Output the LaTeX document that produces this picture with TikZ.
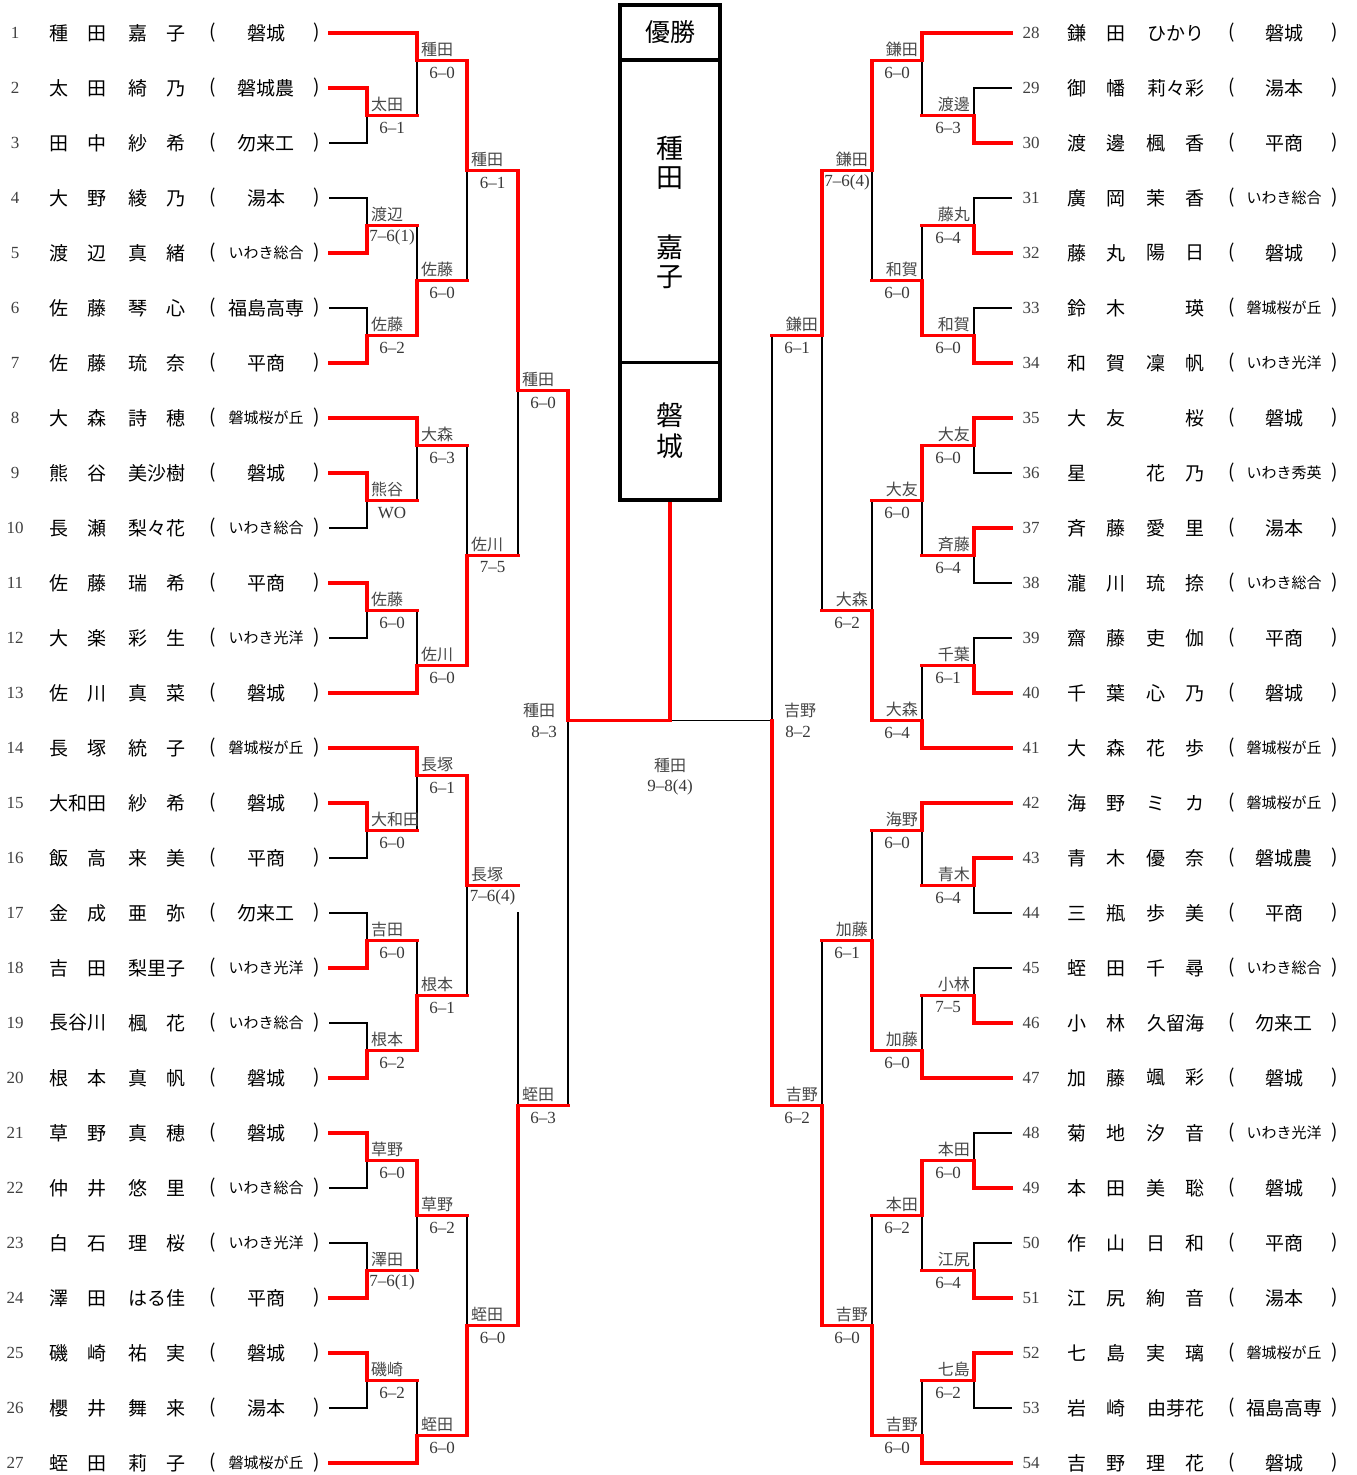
\documentclass[tikz,border=0pt]{standalone}
\usepackage{fontspec}
\newfontfamily\jpf{Noto Sans CJK JP}
\newfontfamily\numf[Ligatures=TeX]{Liberation Serif}
\pgfdeclarelayer{blk}
\pgfsetlayers{blk,main}
\tikzset{declare function={YY(\r)=55*\r-22;}}
\newcommand\D[2]{#1\hfill#2}
\newcommand\CC[1]{\hfil#1\hfil}
\newcommand\sm[1]{{\fontsize{15}{15}\selectfont#1}}
\newcounter{mc}
% left player: row, num, family, given, school
\newcommand\LP[5]{%
\node[num] (pn#2) at (15,{YY(#1)}) {#2};
\node[nm] (pf#2) at (78,{YY(#1)}) {\hbox to 58pt{#3}};
\node[nm] (pg#2) at (157,{YY(#1)}) {\hbox to 58pt{#4}};
\node[nm] (po#2) at (213,{YY(#1)}) {(};
\node[nm] (ps#2) at (266,{YY(#1)}) {#5};
\node[nm] (pc#2) at (317,{YY(#1)}) {)};}
\newcommand\RP[5]{%
\node[num] (pn#2) at (1031,{YY(#1)}) {#2};
\node[nm] (pf#2) at (1096,{YY(#1)}) {\hbox to 58pt{#3}};
\node[nm] (pg#2) at (1175.5,{YY(#1)}) {\hbox to 58pt{#4}};
\node[nm] (po#2) at (1232,{YY(#1)}) {(};
\node[nm] (ps#2) at (1284,{YY(#1)}) {#5};
\node[nm] (pc#2) at (1335,{YY(#1)}) {)};}
\newcommand\LLr[2]{\draw[rl] (330,{YY(#1)}) -- (#2,{YY(#1)});}
\newcommand\LLb[2]{\begin{pgfonlayer}{blk}\draw[bl] (330,{YY(#1)}) -- (#2,{YY(#1)});\end{pgfonlayer}}
\newcommand\RLr[2]{\draw[rl] (1011,{YY(#1)}) -- (#2,{YY(#1)});}
\newcommand\RLb[2]{\begin{pgfonlayer}{blk}\draw[bl] (1011,{YY(#1)}) -- (#2,{YY(#1)});\end{pgfonlayer}}
% match: xv, xn, winner row, loser row, result row, label, score
\newcommand\LM[7]{\stepcounter{mc}%
\begin{pgfonlayer}{blk}\draw[bl] (#1,{YY(#5)}) -- (#1,{YY(#4)});\end{pgfonlayer}
\draw[rl] (#1,{YY(#3)}) -- (#1,{YY(#5)}) -- (#2,{YY(#5)});
\node[lab,anchor=west] (w\themc) at ({#1+4},{YY(#5)-11}) {#6};
\node[sc] (s\themc) at ({(#1+#2)/2},{YY(#5)+12}) {#7};}
\newcommand\RM[7]{\stepcounter{mc}%
\begin{pgfonlayer}{blk}\draw[bl] (#1,{YY(#5)}) -- (#1,{YY(#4)});\end{pgfonlayer}
\draw[rl] (#1,{YY(#3)}) -- (#1,{YY(#5)}) -- (#2,{YY(#5)});
\node[lab,anchor=east] (w\themc) at ({#1-4},{YY(#5)-11}) {#6};
\node[sc] (s\themc) at ({(#1+#2)/2},{YY(#5)+12}) {#7};}
\begin{document}
\begin{tikzpicture}[x=1pt,y=-1pt,
 nm/.style={inner sep=0pt,font=\jpf\fontsize{19}{19}\selectfont},
 num/.style={inner sep=0pt,font=\numf\fontsize{17}{17}\selectfont,text=black!75},
 lab/.style={inner sep=0pt,font=\jpf\fontsize{16}{16}\selectfont,text=black!72},
 sc/.style={inner sep=0pt,font=\numf\fontsize{17}{17}\selectfont,text=black!78},
 rl/.style={draw=red,line width=3.6pt,line cap=rect},
 bl/.style={draw=black,line width=1.8pt,line cap=rect},
 bx/.style={draw=black,line width=3.3pt},
 big/.style={inner sep=0pt,font=\jpf\fontsize{27}{27}\selectfont}]
\useasboundingbox (0,0) rectangle (1357,1475);
% ---------- left players ----------
\LP{1}{1}{\D{種}{田}}{\D{嘉}{子}}{磐城}
\LP{2}{2}{\D{太}{田}}{\D{綺}{乃}}{磐城農}
\LP{3}{3}{\D{田}{中}}{\D{紗}{希}}{勿来工}
\LP{4}{4}{\D{大}{野}}{\D{綾}{乃}}{湯本}
\LP{5}{5}{\D{渡}{辺}}{\D{真}{緒}}{\sm{いわき総合}}
\LP{6}{6}{\D{佐}{藤}}{\D{琴}{心}}{福島高専}
\LP{7}{7}{\D{佐}{藤}}{\D{琉}{奈}}{平商}
\LP{8}{8}{\D{大}{森}}{\D{詩}{穂}}{\sm{磐城桜が丘}}
\LP{9}{9}{\D{熊}{谷}}{\CC{美沙樹}}{磐城}
\LP{10}{10}{\D{長}{瀬}}{\CC{梨々花}}{\sm{いわき総合}}
\LP{11}{11}{\D{佐}{藤}}{\D{瑞}{希}}{平商}
\LP{12}{12}{\D{大}{楽}}{\D{彩}{生}}{\sm{いわき光洋}}
\LP{13}{13}{\D{佐}{川}}{\D{真}{菜}}{磐城}
\LP{14}{14}{\D{長}{塚}}{\D{統}{子}}{\sm{磐城桜が丘}}
\LP{15}{15}{\CC{大和田}}{\D{紗}{希}}{磐城}
\LP{16}{16}{\D{飯}{高}}{\D{来}{美}}{平商}
\LP{17}{17}{\D{金}{成}}{\D{亜}{弥}}{勿来工}
\LP{18}{18}{\D{吉}{田}}{\CC{梨里子}}{\sm{いわき光洋}}
\LP{19}{19}{\CC{長谷川}}{\D{楓}{花}}{\sm{いわき総合}}
\LP{20}{20}{\D{根}{本}}{\D{真}{帆}}{磐城}
\LP{21}{21}{\D{草}{野}}{\D{真}{穂}}{磐城}
\LP{22}{22}{\D{仲}{井}}{\D{悠}{里}}{\sm{いわき総合}}
\LP{23}{23}{\D{白}{石}}{\D{理}{桜}}{\sm{いわき光洋}}
\LP{24}{24}{\D{澤}{田}}{\CC{はる佳}}{平商}
\LP{25}{25}{\D{磯}{崎}}{\D{祐}{実}}{磐城}
\LP{26}{26}{\D{櫻}{井}}{\D{舞}{来}}{湯本}
\LP{27}{27}{\D{蛭}{田}}{\D{莉}{子}}{\sm{磐城桜が丘}}
% ---------- right players ----------
\RP{1}{28}{\D{鎌}{田}}{\CC{ひかり}}{磐城}
\RP{2}{29}{\D{御}{幡}}{\CC{莉々彩}}{湯本}
\RP{3}{30}{\D{渡}{邊}}{\D{楓}{香}}{平商}
\RP{4}{31}{\D{廣}{岡}}{\D{茉}{香}}{\sm{いわき総合}}
\RP{5}{32}{\D{藤}{丸}}{\D{陽}{日}}{磐城}
\RP{6}{33}{\D{鈴}{木}}{\D{}{瑛}}{\sm{磐城桜が丘}}
\RP{7}{34}{\D{和}{賀}}{\D{凜}{帆}}{\sm{いわき光洋}}
\RP{8}{35}{\D{大}{友}}{\D{}{桜}}{磐城}
\RP{9}{36}{\D{星}{}}{\D{花}{乃}}{\sm{いわき秀英}}
\RP{10}{37}{\D{斉}{藤}}{\D{愛}{里}}{湯本}
\RP{11}{38}{\D{瀧}{川}}{\D{琉}{捺}}{\sm{いわき総合}}
\RP{12}{39}{\D{齋}{藤}}{\D{吏}{伽}}{平商}
\RP{13}{40}{\D{千}{葉}}{\D{心}{乃}}{磐城}
\RP{14}{41}{\D{大}{森}}{\D{花}{歩}}{\sm{磐城桜が丘}}
\RP{15}{42}{\D{海}{野}}{\D{ミ}{カ}}{\sm{磐城桜が丘}}
\RP{16}{43}{\D{青}{木}}{\D{優}{奈}}{磐城農}
\RP{17}{44}{\D{三}{瓶}}{\D{歩}{美}}{平商}
\RP{18}{45}{\D{蛭}{田}}{\D{千}{尋}}{\sm{いわき総合}}
\RP{19}{46}{\D{小}{林}}{\CC{久留海}}{勿来工}
\RP{20}{47}{\D{加}{藤}}{\D{颯}{彩}}{磐城}
\RP{21}{48}{\D{菊}{地}}{\D{汐}{音}}{\sm{いわき光洋}}
\RP{22}{49}{\D{本}{田}}{\D{美}{聡}}{磐城}
\RP{23}{50}{\D{作}{山}}{\D{日}{和}}{平商}
\RP{24}{51}{\D{江}{尻}}{\D{絢}{音}}{湯本}
\RP{25}{52}{\D{七}{島}}{\D{実}{璃}}{\sm{磐城桜が丘}}
\RP{26}{53}{\D{岩}{崎}}{\CC{由芽花}}{福島高専}
\RP{27}{54}{\D{吉}{野}}{\D{理}{花}}{磐城}
% ---------- left entry lines ----------
\LLr{1}{417}\LLr{2}{367}\LLb{3}{367}\LLb{4}{367}\LLr{5}{367}\LLb{6}{367}\LLr{7}{367}
\LLr{8}{417}\LLr{9}{367}\LLb{10}{367}\LLr{11}{367}\LLb{12}{367}\LLr{13}{417}\LLr{14}{417}
\LLr{15}{367}\LLb{16}{367}\LLb{17}{367}\LLr{18}{367}\LLb{19}{367}\LLr{20}{367}
\LLr{21}{367}\LLb{22}{367}\LLb{23}{367}\LLr{24}{367}\LLr{25}{367}\LLb{26}{367}\LLr{27}{417}
% ---------- right entry lines ----------
\RLr{1}{922}\RLb{2}{974}\RLr{3}{974}\RLb{4}{974}\RLr{5}{974}\RLb{6}{974}\RLr{7}{974}
\RLr{8}{974}\RLb{9}{974}\RLr{10}{974}\RLb{11}{974}\RLb{12}{974}\RLr{13}{974}
\RLr{14}{922}\RLr{15}{922}\RLr{16}{974}\RLb{17}{974}\RLb{18}{974}\RLr{19}{974}\RLr{20}{922}
\RLb{21}{974}\RLr{22}{974}\RLb{23}{974}\RLr{24}{974}\RLr{25}{974}\RLb{26}{974}\RLr{27}{922}
% ---------- left rounds ----------
\LM{367}{417}{2}{3}{2.5}{太田}{6--1}
\LM{367}{417}{5}{4}{4.5}{渡辺}{7--6(1)}
\LM{367}{417}{7}{6}{6.5}{佐藤}{6--2}
\LM{367}{417}{9}{10}{9.5}{熊谷}{WO}
\LM{367}{417}{11}{12}{11.5}{佐藤}{6--0}
\LM{367}{417}{15}{16}{15.5}{大和田}{6--0}
\LM{367}{417}{18}{17}{17.5}{吉田}{6--0}
\LM{367}{417}{20}{19}{19.5}{根本}{6--2}
\LM{367}{417}{21}{22}{21.5}{草野}{6--0}
\LM{367}{417}{24}{23}{23.5}{澤田}{7--6(1)}
\LM{367}{417}{25}{26}{25.5}{磯崎}{6--2}
\LM{417}{467}{1}{2.5}{1.5}{種田}{6--0}
\LM{417}{467}{6.5}{4.5}{5.5}{佐藤}{6--0}
\LM{417}{467}{8}{9.5}{8.5}{大森}{6--3}
\LM{417}{467}{13}{11.5}{12.5}{佐川}{6--0}
\LM{417}{467}{14}{15.5}{14.5}{長塚}{6--1}
\LM{417}{467}{19.5}{17.5}{18.5}{根本}{6--1}
\LM{417}{467}{21.5}{23.5}{22.5}{草野}{6--2}
\LM{417}{467}{27}{25.5}{26.5}{蛭田}{6--0}
\LM{467}{518}{1.5}{5.5}{3.5}{種田}{6--1}
\LM{467}{518}{12.5}{8.5}{10.5}{佐川}{7--5}
\LM{467}{518}{14.5}{18.5}{16.5}{長塚}{7--6(4)}
\LM{467}{518}{26.5}{22.5}{24.5}{蛭田}{6--0}
\LM{518}{568}{3.5}{10.5}{7.5}{種田}{6--0}
\LM{518}{568}{24.5}{17}{20.5}{蛭田}{6--3}
% ---------- right rounds ----------
\RM{974}{922}{3}{2}{2.5}{渡邊}{6--3}
\RM{974}{922}{5}{4}{4.5}{藤丸}{6--4}
\RM{974}{922}{7}{6}{6.5}{和賀}{6--0}
\RM{974}{922}{8}{9}{8.5}{大友}{6--0}
\RM{974}{922}{10}{11}{10.5}{斉藤}{6--4}
\RM{974}{922}{13}{12}{12.5}{千葉}{6--1}
\RM{974}{922}{16}{17}{16.5}{青木}{6--4}
\RM{974}{922}{19}{18}{18.5}{小林}{7--5}
\RM{974}{922}{22}{21}{21.5}{本田}{6--0}
\RM{974}{922}{24}{23}{23.5}{江尻}{6--4}
\RM{974}{922}{25}{26}{25.5}{七島}{6--2}
\RM{922}{872}{1}{2.5}{1.5}{鎌田}{6--0}
\RM{922}{872}{6.5}{4.5}{5.5}{和賀}{6--0}
\RM{922}{872}{8.5}{10.5}{9.5}{大友}{6--0}
\RM{922}{872}{14}{12.5}{13.5}{大森}{6--4}
\RM{922}{872}{15}{16.5}{15.5}{海野}{6--0}
\RM{922}{872}{20}{18.5}{19.5}{加藤}{6--0}
\RM{922}{872}{21.5}{23.5}{22.5}{本田}{6--2}
\RM{922}{872}{27}{25.5}{26.5}{吉野}{6--0}
\RM{872}{822}{1.5}{5.5}{3.5}{鎌田}{7--6(4)}
\RM{872}{822}{13.5}{9.5}{11.5}{大森}{6--2}
\RM{872}{822}{19.5}{15.5}{17.5}{加藤}{6--1}
\RM{872}{822}{26.5}{22.5}{24.5}{吉野}{6--0}
\RM{822}{772}{3.5}{11.5}{6.5}{鎌田}{6--1}
\RM{822}{772}{24.5}{17.5}{20.5}{吉野}{6--2}
% ---------- semifinals and final ----------
\begin{pgfonlayer}{blk}
\draw[bl] (568,{YY(13.5)}) -- (568,{YY(20.5)});
\draw[bl] (670,{YY(13.5)}) -- (772,{YY(13.5)});
\draw[bl] (772,{YY(13.5)}) -- (772,{YY(6.5)});
\end{pgfonlayer}
\draw[rl] (568,{YY(7.5)}) -- (568,{YY(13.5)}) -- (670,{YY(13.5)});
\draw[rl] (772,{YY(20.5)}) -- (772,{YY(13.5)});
\draw[rl,line cap=butt] (670,502) -- (670,{YY(13.5)});
\node[lab] (sfL) at (539,710) {種田};
\node[sc] (sfLs) at (544,732) {8--3};
\node[lab] (sfR) at (800,710) {吉野};
\node[sc] (sfRs) at (798,732) {8--2};
\node[lab] (fn) at (670,765) {種田};
\node[sc] (fns) at (670,787) {9--8(4)};
% ---------- champion box ----------
\draw[bx] (620,5) rectangle (720,500);
\draw[bx] (620,60) -- (720,60);
\draw[bx] (620,362.5) -- (720,362.5);
\node[big,font=\jpf\fontsize{25}{25}\selectfont] (ch) at (670,32) {優勝};
\node[big] (c1) at (670,148) {種};
\node[big] (c2) at (670,178) {田};
\node[big] (c3) at (670,247) {嘉};
\node[big] (c4) at (670,277) {子};
\node[big] (c5) at (670,415) {磐};
\node[big] (c6) at (670,446) {城};
\end{tikzpicture}
\end{document}
